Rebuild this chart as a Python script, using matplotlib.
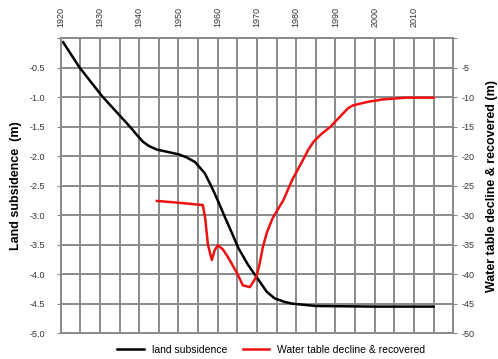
import matplotlib
matplotlib.use("Agg")
import matplotlib.pyplot as plt

plt.rcParams['font.family'] = ['Liberation Sans Narrow', 'Liberation Sans', 'DejaVu Sans']

# land subsidence (m), left axis
subs_year = [1920.6, 1924.8, 1930.6, 1937.6, 1939.5, 1941, 1942.5, 1944.5, 1948, 1950, 1952,
             1954.2, 1956.7, 1958.5, 1960, 1961.8, 1963.6, 1965.2, 1967.7, 1970, 1972.5,
             1974.5, 1977, 1979, 1985, 2000, 2015]
subs_val = [-0.07, -0.5, -0.99, -1.5, -1.65, -1.76, -1.83, -1.89, -1.94, -1.97, -2.02,
            -2.10, -2.29, -2.53, -2.75, -3.03, -3.30, -3.55, -3.84, -4.06, -4.30,
            -4.41, -4.47, -4.5, -4.54, -4.55, -4.55]

# water table decline & recovered (m), right axis
wt_year = [1944.5, 1950, 1956.2, 1956.8, 1957.5, 1958.5, 1959.2, 1960, 1961.3, 1962.6,
           1964.9, 1966.4, 1968.2, 1969.8, 1970.6, 1971.5, 1972.5, 1974, 1976.7, 1979,
           1981.7, 1983, 1984.5, 1986.5, 1988.6, 1993.2, 1994.5, 1998.3, 2002, 2008, 2015]
wt_val = [-27.6, -27.9, -28.3, -30.5, -35.0, -37.6, -36.0, -35.1, -35.8, -37.1,
          -39.8, -41.9, -42.2, -40.5, -38.5, -35.4, -33.0, -30.5, -27.5, -24.0,
          -20.7, -19.0, -17.5, -16.2, -15.1, -11.9, -11.4, -10.8, -10.4, -10.1, -10.1]

year_ticks = list(range(1920, 2021, 10))
year_labels = [str(y) for y in range(1920, 2011, 10)] + ['']
left_ticks = [-5.0, -4.5, -4.0, -3.5, -3.0, -2.5, -2.0, -1.5, -1.0, -0.5, 0.0]
right_ticks = [-50, -45, -40, -35, -30, -25, -20, -15, -10, -5, 0]

grid_c = '#8a8a8a'
txt_c = '#333333'

fig = plt.figure(figsize=(4.98, 3.59), dpi=100)
ax = fig.add_axes([0.122, 0.072, 0.788, 0.822])

ax.set_xlim(1920, 2020)
ax.set_ylim(-5, 0)
ax.xaxis.tick_top()
ax.set_xticks(year_ticks)
ax.set_xticklabels(year_labels, rotation=90, fontsize=6.5, color=txt_c)
ax.set_xticks(range(1920, 2021, 5), minor=True)
ax.tick_params(axis='x', which='both', length=0, pad=8)
ax.set_yticks(left_ticks)
ax.set_yticklabels([f"{v:.1f}" for v in left_ticks[:-1]] + [''], fontsize=6.5, color=txt_c)
ax.tick_params(axis='y', length=3, color=grid_c, pad=8)
ax.grid(True, which='both', color=grid_c, linewidth=1.4)
for s in ax.spines.values():
    s.set_color(grid_c)
    s.set_linewidth(1.2)
ax.set_ylabel("Land subsidence  (m)", fontsize=9, fontweight='bold', labelpad=6)

l1, = ax.plot(subs_year, subs_val, color='black', linewidth=1.8, label='land subsidence',
              solid_joinstyle='round')

ax2 = ax.twinx()
ax2.set_ylim(-50, 0)
ax2.set_yticks(right_ticks)
ax2.set_yticklabels([str(v) for v in right_ticks[:-1]] + [''], fontsize=6.5, color=txt_c)
ax2.tick_params(axis='y', length=3, color=grid_c, pad=3)
for s in ax2.spines.values():
    s.set_color(grid_c)
    s.set_linewidth(1.2)
ax2.set_ylabel("Water table decline & recovered (m)", fontsize=9, fontweight='bold', labelpad=8)

l2, = ax2.plot(wt_year, wt_val, color='#ee1111', linewidth=1.8,
               label='Water table decline & recovered', solid_joinstyle='round')

fig.legend(handles=[l1, l2], loc='lower center', bbox_to_anchor=(0.545, -0.015), ncol=2,
           frameon=False, fontsize=7.5, handlelength=2.5, columnspacing=1.5)

fig.savefig("out.png", dpi=100)
